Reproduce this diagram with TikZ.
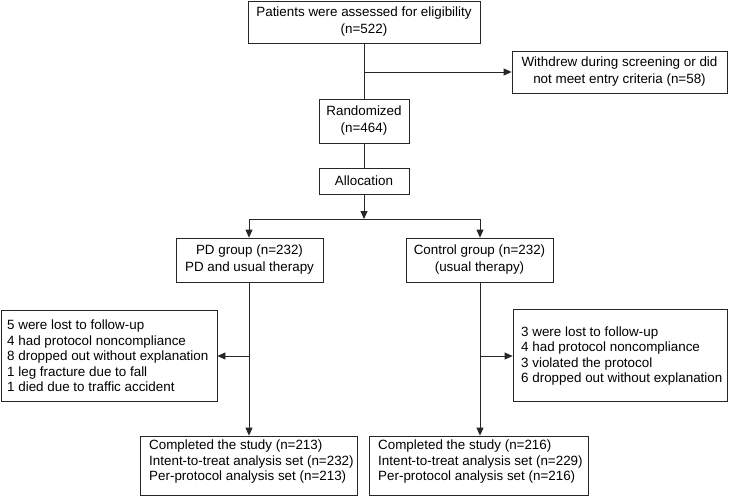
\documentclass[tikz,border=0pt]{standalone}
\usepackage{fontspec}
\setmainfont{Liberation Sans}
\usetikzlibrary{arrows.meta,calc}
\begin{document}
\begin{tikzpicture}[x=1pt,y=-1pt,
  box/.style={draw=black!85,line width=0.8pt,inner sep=0pt,font=\fontsize{13.4}{17}\selectfont,align=center},
  lbox/.style={draw=black!85,line width=0.8pt,inner sep=0pt},
  ltext/.style={anchor=west,inner sep=0pt,align=left,font=\fontsize{13.4}{15.5}\selectfont},
  conn/.style={line width=0.8pt,draw=black!85},
  arr/.style={conn,-{Triangle[length=8pt,width=7pt]}}]
\useasboundingbox (0,0) rectangle (729,496);
\node[box,minimum width=232pt,minimum height=42pt] (assess) at (364,22) {Patients were assessed for eligibility\\(n=522)};
\node[box,minimum width=215pt,minimum height=42pt] (withdrew) at (619.5,72) {Withdrew during screening or did\\not meet entry criteria (n=58)};
\node[box,minimum width=90pt,minimum height=44pt] (rand) at (364,121) {Randomized\\(n=464)};
\node[box,minimum width=90pt,minimum height=26pt] (alloc) at (364,181) {Allocation};
\node[box,minimum width=147pt,minimum height=44pt] (pd) at (249.5,260) {PD group (n=232)\\PD and usual therapy};
\node[box,minimum width=147pt,minimum height=44pt] (ctrl) at (479.5,260) {Control group (n=232)\\(usual therapy)};
\node[lbox,minimum width=216pt,minimum height=91pt] (ldrop) at (109,355.5) {};
\node[ltext] (ldropt) at (7,356) {5 were lost to follow-up\\4 had protocol noncompliance\\8 dropped out without explanation\\1 leg fracture due to fall\\1 died due to traffic accident};
\node[lbox,minimum width=214pt,minimum height=92pt] (rdrop) at (620,355) {};
\node[ltext] (rdropt) at (521,356) {3 were lost to follow-up\\4 had protocol noncompliance\\3 violated the protocol\\6 dropped out without explanation};
\node[lbox,minimum width=217pt,minimum height=59pt] (lend) at (248.5,465.5) {};
\node[ltext] (lendt) at (149,462) {Completed the study (n=213)\\Intent-to-treat analysis set (n=232)\\Per-protocol analysis set (n=213)};
\node[lbox,minimum width=219pt,minimum height=59pt] (rend) at (478.5,465.5) {};
\node[ltext] (rendt) at (378,462) {Completed the study (n=216)\\Intent-to-treat analysis set (n=229)\\Per-protocol analysis set (n=216)};
\coordinate (b1) at (364,72);
\coordinate (split) at (364,219);
\coordinate (sl) at (249,219);
\coordinate (sr) at (480,219);
\coordinate (bl) at (249,356);
\coordinate (br) at (480,356);
\draw[conn] (assess.south) -- (rand.north);
\draw[arr] (b1) -- (withdrew.west |- b1);
\draw[conn] (rand.south) -- (alloc.north);
\draw[arr] (alloc.south) -- (split);
\draw[conn] (sl) -- (sr);
\draw[arr] (sl) -- (sl |- pd.north);
\draw[arr] (sr) -- (sr |- ctrl.north);
\draw[arr] (sl |- pd.south) -- (sl |- lend.north);
\draw[arr] (sr |- ctrl.south) -- (sr |- rend.north);
\draw[arr] (bl) -- (ldrop.east |- bl);
\draw[arr] (br) -- (rdrop.west |- br);
\end{tikzpicture}
\end{document}
